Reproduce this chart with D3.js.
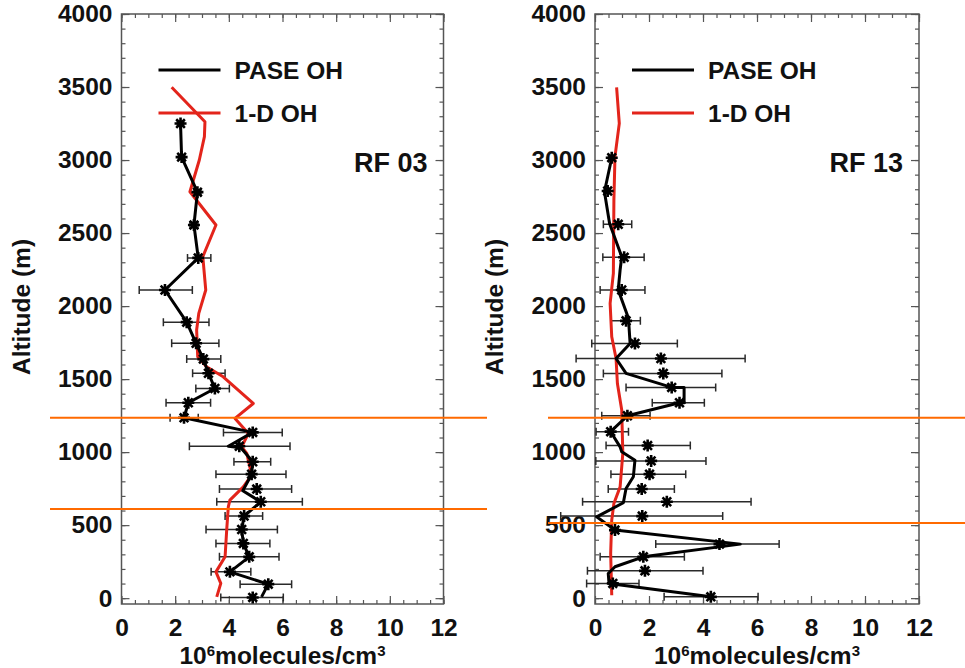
<!DOCTYPE html>
<html>
<head>
<meta charset="utf-8">
<script src="https://cdn.jsdelivr.net/npm/d3@7"></script>
<style>
  body { margin: 0; background: #fff; }
  svg { display: block; font-family: "Liberation Sans", Arial, Helvetica, sans-serif; font-weight: bold; }
</style>
</head>
<body>
<div class="chart"></div>
<script>
// tick values shared by both panels
const xTicks = [0, 2, 4, 6, 8, 10, 12];
const yTicks = [0, 500, 1000, 1500, 2000, 2500, 3000, 3500, 4000];

// RF 03 : PASE OH bin means (altitude m, value 1e6 molec/cm3, error low, error high)
const rf03Alt = [3250, 3020, 2780, 2555, 2330, 2110, 1890, 1745, 1637, 1540, 1436, 1338, 1235, 1135, 1040, 934, 849, 747, 660, 562, 470, 375, 283, 180, 96, 5];
const rf03Val = [2.2, 2.24, 2.83, 2.7, 2.86, 1.62, 2.43, 2.78, 3.05, 3.24, 3.48, 2.49, 2.33, 4.89, 4.39, 4.89, 4.85, 5.04, 5.19, 4.57, 4.48, 4.54, 4.76, 4.04, 5.47, 4.89];
const rf03Lo = [2.08, 2.12, 2.7, 2.55, 2.46, 0.66, 1.56, 1.87, 2.43, 2.65, 2.77, 1.66, 1.81, 3.8, 2.53, 4.19, 3.52, 3.65, 3.55, 3.86, 3.15, 3.52, 3.65, 3.34, 4.42, 3.7];
const rf03Hi = [2.32, 2.36, 2.96, 2.85, 3.33, 2.64, 3.26, 3.63, 3.7, 3.86, 4.02, 3.32, 2.86, 5.99, 6.28, 5.56, 6.13, 6.34, 6.74, 5.26, 5.81, 5.53, 5.87, 4.82, 6.34, 6.03];
// RF 03 : PASE OH profile line
const rf03LineAlt = [3250, 3020, 2780, 2555, 2330, 2110, 1890, 1745, 1637, 1540, 1436, 1338, 1235, 1135, 1040, 1030, 934, 849, 735, 660, 562, 470, 375, 283, 180, 96, 9];
const rf03LineVal = [2.2, 2.24, 2.83, 2.7, 2.86, 1.62, 2.43, 2.78, 3.05, 3.24, 3.48, 2.49, 2.33, 4.89, 3.98, 4.45, 4.89, 4.85, 4.52, 5.19, 4.57, 4.48, 4.54, 4.76, 4.04, 5.47, 5.22];
// RF 03 : 1-D model OH
const rf03ModelAlt = [3498, 3262, 3160, 3000, 2783, 2555, 2338, 2110, 1950, 1836, 1653, 1584, 1516, 1333, 1231, 1128, 1036, 991, 842, 762, 671, 625, 466, 283, 180, 101, 9];
const rf03ModelVal = [1.87, 3.11, 3.09, 2.9, 2.55, 3.52, 3.03, 3.14, 2.88, 2.8, 2.84, 3.17, 3.79, 4.91, 4.23, 4.73, 4.48, 4.67, 4.85, 4.54, 4.04, 3.98, 3.92, 3.86, 3.52, 3.7, 3.55];
const rf03Bounds = [1235, 610]; // orange marker altitudes

// RF 13
const rf13Alt = [3016, 2788, 2560, 2334, 2110, 1899, 1744, 1641, 1539, 1443, 1338, 1249, 1140, 1045, 940, 849, 747, 660, 562, 466, 370, 283, 187, 101, 9];
const rf13Val = [0.62, 0.47, 0.86, 1.08, 0.99, 1.15, 1.48, 2.44, 2.53, 2.84, 3.13, 1.2, 0.58, 1.95, 2.08, 2.02, 1.73, 2.66, 1.75, 0.74, 4.61, 1.79, 1.85, 0.66, 4.29];
const rf13Lo = [0.5, 0.37, 0.31, 0.29, 0.19, 0.59, -0.12, -0.7, 0.31, 1.15, 2.12, 0.25, 0.04, 0.41, 0.03, 0.59, 0.49, -0.46, -1.27, 0.62, 2.25, 0.19, -0.28, -0.31, 2.56];
const rf13Hi = [0.75, 0.57, 1.36, 1.82, 1.85, 1.68, 3.05, 5.56, 4.7, 4.47, 4.05, 2.04, 1.24, 3.53, 4.11, 3.36, 2.94, 5.78, 4.73, 0.86, 6.82, 3.31, 4.0, 1.63, 6.04];
const rf13LineAlt = [3016, 2783, 2566, 2338, 2247, 2110, 1916, 1744, 1641, 1539, 1443, 1443, 1338, 1338, 1249, 1140, 1036, 1002, 945, 831, 751, 653, 557, 466, 370, 283, 215, 169, 101, 9];
const rf13LineVal = [0.62, 0.35, 0.54, 0.99, 0.93, 0.86, 1.24, 1.3, 0.78, 1.15, 2.84, 3.3, 3.3, 3.13, 1.2, 0.58, 0.93, 0.99, 1.48, 1.42, 1.15, 1.05, 0.06, 0.74, 5.38, 1.79, 0.74, 0.49, 0.52, 4.29];
const rf13ModelAlt = [3498, 3251, 3023, 2726, 2224, 2018, 1790, 1641, 1470, 1288, 991, 762, 648, 534, 306, 20];
const rf13ModelVal = [0.8, 0.9, 0.74, 0.7, 0.68, 0.56, 0.62, 0.78, 0.83, 0.99, 1.03, 0.93, 0.7, 0.62, 0.58, 0.62];
const rf13Bounds = [1235, 515];

const svg_width = 965;
const svg_height = 668;
const svg = d3.select('.chart').append('svg')
    .attr('width', svg_width).attr('height', svg_height);

// shared altitude scale
const Y_scale = d3.scaleLinear().domain([-40, 4000]).range([604, 14]);

const zip = (alt, val) => alt.map((a, i) => ({ alt: a, val: val[i] }));
const fontSize = '24.5px';

// asterisk symbol like the IDL psym=2
function star(r) {
    const k = r * 0.72;
    return `M${-r},0L${r},0M0,${-r}L0,${r}M${-k},${-k}L${k},${k}M${-k},${k}L${k},${-k}`;
}

function drawPanel(p) {
    const X_scale = d3.scaleLinear().domain([0, 12]).range(p.xRange);
    const [x0, x1] = p.xRange;
    const [yb, yt] = Y_scale.range();
    const g = svg.append('g').attr('class', 'panel ' + p.id);

    // frame
    g.append('rect').attr('x', x0).attr('y', yt).attr('width', x1 - x0).attr('height', yb - yt)
        .attr('fill', 'none').attr('stroke', '#555').attr('stroke-width', 1.5);

    const minorX = d3.range(0, 12.01, 0.5);
    const minorY = d3.range(0, 4001, 100);

    // axes, ticks pointing inside the box
    const axes = [
        { gen: d3.axisBottom(X_scale), t: `translate(0,${yb})`, major: xTicks, minor: minorX, label: true, pad: 15 },
        { gen: d3.axisTop(X_scale), t: `translate(0,${yt})`, major: xTicks, minor: minorX, label: false, pad: 0 },
        { gen: d3.axisLeft(Y_scale), t: `translate(${x0},0)`, major: yTicks, minor: minorY, label: true, pad: 9 },
        { gen: d3.axisRight(Y_scale), t: `translate(${x1},0)`, major: yTicks, minor: minorY, label: false, pad: 0 },
    ];
    axes.forEach(a => {
        g.append('g').attr('transform', a.t)
            .call(a.gen.tickValues(a.minor).tickSize(-4).tickFormat(''))
            .call(s => s.select('.domain').remove())
            .selectAll('line').attr('stroke', '#555').attr('stroke-width', 1.2);
        const ax = g.append('g').attr('transform', a.t)
            .call(a.gen.tickValues(a.major).tickSize(-8).tickPadding(a.pad)
                .tickFormat(a.label ? d3.format('d') : ''))
            .call(s => s.select('.domain').remove());
        ax.selectAll('line').attr('stroke', '#555').attr('stroke-width', 1.2);
        ax.selectAll('text').attr('font-size', fontSize).attr('font-weight', 'bold')
            .attr('font-family', '"Liberation Sans", Arial, sans-serif').attr('fill', '#111');
    });

    // error bars
    const markers = p.alt.map((a, i) => ({ alt: a, val: p.val[i], lo: p.lo[i], hi: p.hi[i] }));
    const eb = g.append('g').attr('class', 'errbars').attr('stroke', '#2a2a2a').attr('stroke-width', 1.5);
    eb.selectAll('.bar').data(markers).enter().append('path')
        .attr('d', d => {
            const y = Y_scale(d.alt), a = X_scale(d.lo), b = X_scale(d.hi);
            return `M${a},${y}L${b},${y}M${a},${y - 4}L${a},${y + 4}M${b},${y - 4}L${b},${y + 4}`;
        });

    const line = d3.line().x(d => X_scale(d.val)).y(d => Y_scale(d.alt));

    // 1-D model
    g.append('path').datum(zip(p.modelAlt, p.modelVal))
        .attr('d', line).attr('fill', 'none').attr('stroke', '#e3241b').attr('stroke-width', 3)
        .attr('stroke-linejoin', 'round');

    // PASE profile
    g.append('path').datum(zip(p.lineAlt, p.lineVal))
        .attr('d', line).attr('fill', 'none').attr('stroke', '#000').attr('stroke-width', 3)
        .attr('stroke-linejoin', 'round');

    g.append('g').selectAll('.star').data(markers).enter().append('path')
        .attr('transform', d => `translate(${X_scale(d.val)},${Y_scale(d.alt)})`)
        .attr('d', star(6)).attr('stroke', '#000').attr('stroke-width', 2.6).attr('fill', 'none');

    // point sitting on the origin, clipped by the box
    g.append('clipPath').attr('id', 'clip-' + p.id).append('rect')
        .attr('x', x0).attr('y', yt).attr('width', x1 - x0).attr('height', yb - yt);
    g.append('path').attr('clip-path', `url(#clip-${p.id})`)
        .attr('transform', `translate(${X_scale(0)},${Y_scale(-40)})`)
        .attr('d', star(7)).attr('stroke', '#000').attr('stroke-width', 2.4);

    // legend
    const lg = g.append('g').attr('class', 'legend');
    [['PASE OH', '#000', 70], ['1-D OH', '#e3241b', 113]].forEach(([txt, col, y]) => {
        lg.append('line').attr('x1', x0 + 37).attr('x2', x0 + 99).attr('y1', y).attr('y2', y)
            .attr('stroke', col).attr('stroke-width', 3);
        lg.append('text').attr('x', x0 + 113).attr('y', y + 9).attr('font-size', fontSize).attr('fill', '#111').text(txt);
    });

    g.append('text').attr('x', x1 - 16).attr('y', 172).attr('text-anchor', 'end')
        .attr('font-size', '27px').attr('fill', '#111').text(p.name);

    // axis titles
    g.append('text').attr('transform', `translate(${x0 - 92},${(yt + yb) / 2 - 2}) rotate(-90)`)
        .attr('text-anchor', 'middle').attr('font-size', fontSize).attr('fill', '#111').text('Altitude (m)');
    const xt = g.append('text').attr('x', (x0 + x1) / 2).attr('y', 664)
        .attr('text-anchor', 'middle').attr('font-size', fontSize).attr('fill', '#111');
    xt.append('tspan').text('10');
    xt.append('tspan').attr('font-size', '15px').attr('dy', -8).text('6');
    xt.append('tspan').attr('dy', 8).text('molecules/cm');
    xt.append('tspan').attr('font-size', '15px').attr('dy', -8).text('3');

    // orange boundary lines
    g.selectAll('.bound').data(p.bounds).enter().append('line')
        .attr('x1', p.boundX[0]).attr('x2', p.boundX[1])
        .attr('y1', d => Y_scale(d)).attr('y2', d => Y_scale(d))
        .attr('stroke', '#ff6a00').attr('stroke-width', 2);
}

drawPanel({
    id: 'rf03', name: 'RF 03', xRange: [121.5, 443.5], boundX: [50, 487],
    alt: rf03Alt, val: rf03Val, lo: rf03Lo, hi: rf03Hi,
    lineAlt: rf03LineAlt, lineVal: rf03LineVal,
    modelAlt: rf03ModelAlt, modelVal: rf03ModelVal, bounds: rf03Bounds
});
drawPanel({
    id: 'rf13', name: 'RF 13', xRange: [595, 919], boundX: [548, 965],
    alt: rf13Alt, val: rf13Val, lo: rf13Lo, hi: rf13Hi,
    lineAlt: rf13LineAlt, lineVal: rf13LineVal,
    modelAlt: rf13ModelAlt, modelVal: rf13ModelVal, bounds: rf13Bounds
});
</script>
</body>
</html>
